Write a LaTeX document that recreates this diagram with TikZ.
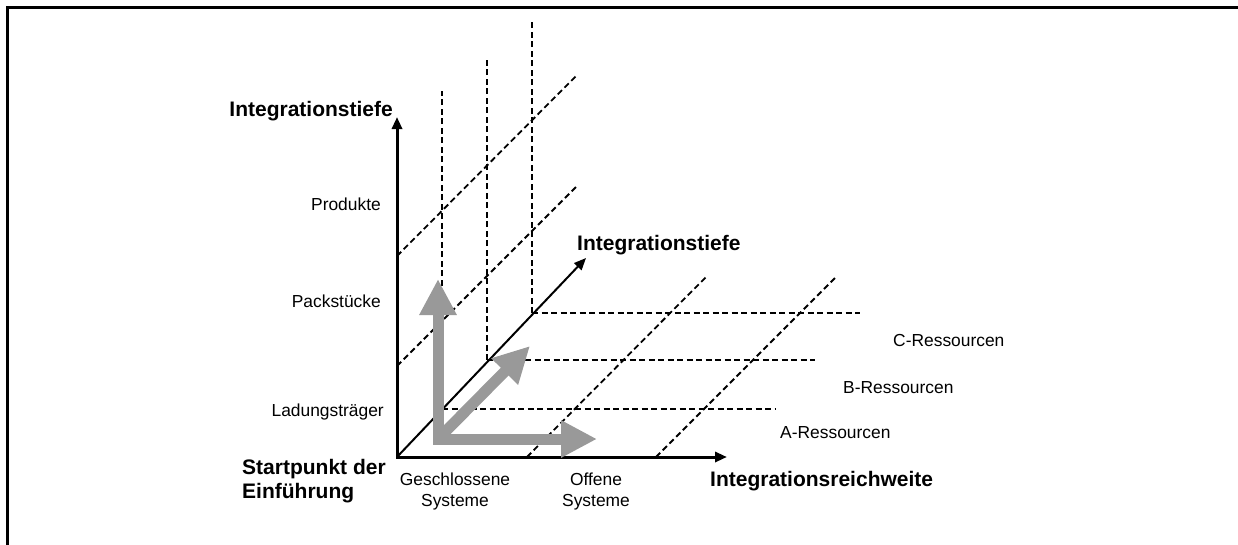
\documentclass[tikz,border=0pt]{standalone}
\usepackage{fontspec}
\setmainfont{Liberation Sans}
\usetikzlibrary{arrows.meta}
\definecolor{arrgray}{RGB}{153,153,153}
\begin{document}
\begin{tikzpicture}[x=1pt,y=-1pt,
  ghead/.tip={Triangle[length=36pt,width=35pt]},
  ahead/.tip={Triangle[length=12pt,width=10pt]},
  frameline/.style={line width=3pt},
  axisline/.style={line width=3pt, line join=miter},
  diagline/.style={line width=2pt, -{ahead}},
  gridline/.style={line width=1.8pt, dash pattern=on 6pt off 3.5pt},
  grayarrow/.style={draw=arrgray, line width=11pt, line join=miter},
  lab/.style={font=\fontsize{17.4}{21}\selectfont, inner sep=0pt},
  blab/.style={font=\fontsize{21}{25}\selectfont\bfseries, inner sep=0pt}]
\path[use as bounding box] (0,0) rectangle (1238,544);
% frame
\draw[frameline] (7,560) -- (7,7) -- (1260,7);
% coordinates
\coordinate (O) at (397,457);
\coordinate (ytip) at (397,117);
\coordinate (xtip) at (727,457);
\coordinate (ztip) at (586,258);
\coordinate (P1) at (442,409);
\coordinate (P2) at (487,360);
\coordinate (P3) at (532,313);
\coordinate (V1) at (442,91);
\coordinate (V2) at (487,58);
\coordinate (V3) at (532,19);
\coordinate (H1) at (775,409);
\coordinate (H2) at (815,360);
\coordinate (H3) at (860,313);
\coordinate (Ya) at (397,256);
\coordinate (Yae) at (577,75);
\coordinate (Yb) at (397,366);
\coordinate (Ybe) at (578,185);
\coordinate (Xa) at (527,457);
\coordinate (Xae) at (706,277);
\coordinate (Xb) at (656,457);
\coordinate (Xbe) at (836,277);
\coordinate (G) at (438,439);
\coordinate (Gup) at (438,279);
\coordinate (Gright) at (597,439);
\coordinate (Gdiag) at (530,346);
% dashed grid
\draw[gridline] (P1) -- (V1);
\draw[gridline] (P2) -- (V2);
\draw[gridline] (P3) -- (V3);
\draw[gridline] (P1) -- (H1);
\draw[gridline] (P2) -- (H2);
\draw[gridline] (P3) -- (H3);
\draw[gridline] (Ya) -- (Yae);
\draw[gridline] (Yb) -- (Ybe);
\draw[gridline] (Xa) -- (Xae);
\draw[gridline] (Xb) -- (Xbe);
% axes
\draw[axisline, {ahead}-{ahead}] (ytip) -- (O) -- (xtip);
\draw[diagline] (O) -- (ztip);
% gray arrows
\draw[grayarrow, {ghead}-{ghead}] (Gup) -- (G) -- (Gright);
\draw[grayarrow, -{ghead}] (G) -- (Gdiag);
% labels
\node[blab, anchor=base east] (ylab) at (393,116) {Integrationstiefe};
\node[lab, anchor=base east] (prod) at (381,210) {Produkte};
\node[lab, anchor=base east] (pack) at (381,307) {Packstücke};
\node[lab, anchor=base east] (ladung) at (384,416) {Ladungsträger};
\node[blab, anchor=base west] (start1) at (242,474) {Startpunkt der};
\node[blab, anchor=base west] (start2) at (242,498) {Einführung};
\node[lab, anchor=base] (geschl1) at (455,485) {Geschlossene};
\node[lab, anchor=base] (geschl2) at (455,506) {Systeme};
\node[lab, anchor=base] (offen1) at (596,485) {Offene};
\node[lab, anchor=base] (offen2) at (596,506) {Systeme};
\node[blab, anchor=base west] (xlab) at (710,486.5) {Integrationsreichweite};
\node[blab, anchor=base west] (zlab) at (577,250) {Integrationstiefe};
\node[lab, anchor=base west] (cres) at (893,346) {C-Ressourcen};
\node[lab, anchor=base west] (bres) at (843,393) {B-Ressourcen};
\node[lab, anchor=base west] (ares) at (780,438) {A-Ressourcen};
\end{tikzpicture}
\end{document}
